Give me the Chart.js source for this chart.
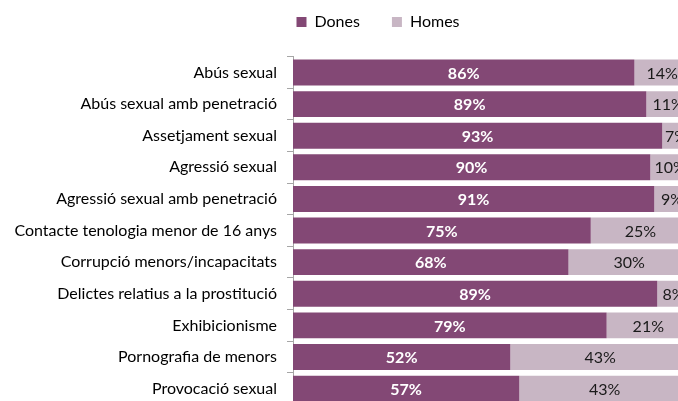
<!DOCTYPE html>
<html>
<head>
<meta charset="utf-8">
<script src="https://cdn.jsdelivr.net/npm/chart.js@4/dist/chart.umd.min.js"></script>
<style>
  html, body { margin: 0; padding: 0; background: #ffffff; overflow: hidden; }
  #wrap { width: 678px; height: 401px; overflow: hidden; position: relative; }
  canvas { display: block; }
</style>
</head>
<body>
<div id="wrap"><canvas id="c" width="756" height="424"></canvas></div>
<script>
const categories = [
  "Abús sexual",
  "Abús sexual amb penetració",
  "Assetjament sexual",
  "Agressió sexual",
  "Agressió sexual amb penetració",
  "Contacte tenologia menor de 16 anys",
  "Corrupció menors/incapacitats",
  "Delictes relatius a la prostitució",
  "Exhibicionisme",
  "Pornografia de menors",
  "Provocació sexual"
];
const donesValues = [86, 89, 93, 90, 91, 75, 68, 89, 79, 52, 57];
const homesValues = [14, 11, 7, 10, 9, 25, 30, 8, 21, 43, 43];
const seriesNames = ["Dones", "Homes"];

const FONT = "Lato, 'Open Sans', sans-serif";

// 100% stacked shares (bars are normalised; labels show the original percentages)
const donesShare = donesValues.map((d, i) => d / (d + homesValues[i]) * 100);
const homesShare = homesValues.map((h, i) => h / (donesValues[i] + h) * 100);
const rawBySeries = [donesValues, homesValues];

const labelPlugin = {
  id: 'segLabels',
  afterDatasetsDraw(chart) {
    const ctx = chart.ctx;
    ctx.save();
    ctx.textAlign = 'center';
    ctx.textBaseline = 'middle';
    chart.data.datasets.forEach((ds, di) => {
      const meta = chart.getDatasetMeta(di);
      meta.data.forEach((bar, i) => {
        const cx = (bar.x + bar.base) / 2;
        if (di === 0) { ctx.fillStyle = '#ffffff'; ctx.font = "bold 16px " + FONT; }
        else { ctx.fillStyle = '#1a1a1a'; ctx.font = "16px " + FONT; }
        ctx.fillText(rawBySeries[di][i] + '%', cx, bar.y + 1);
      });
    });
    ctx.restore();
  }
};

// the legend is centred on the original (wider) chart, not on the visible crop
const legendShift = {
  id: 'legendShift',
  afterLayout(chart) {
    const lg = chart.legend;
    if (lg) { lg.left += 33; lg.right += 33; }
  }
};

new Chart(document.getElementById('c'), {
  type: 'bar',
  data: {
    labels: categories,
    datasets: [
      { label: seriesNames[0], data: donesShare, backgroundColor: '#834875', borderWidth: 0 },
      { label: seriesNames[1], data: homesShare, backgroundColor: '#C8B6C4', borderWidth: 0 }
    ]
  },
  options: {
    indexAxis: 'y',
    responsive: false,
    animation: false,
    devicePixelRatio: 1,
    categoryPercentage: 1.0,
    barPercentage: 0.82,
    layout: { padding: { top: -18, left: 0, right: 66, bottom: 0 } },
    plugins: {
      legend: {
        position: 'top', align: 'center',
        labels: { boxWidth: 10, boxHeight: 10, padding: 32, color: '#000000', font: { family: FONT, size: 16 } }
      },
      tooltip: { enabled: false }
    },
    scales: {
      x: {
        position: 'top', stacked: true, min: 0, max: 100, display: true,
        grid: { display: false }, border: { display: false }, ticks: { display: false },
        afterFit(scale) { scale.height = 16.7; }
      },
      y: {
        stacked: true,
        grid: { display: true, drawOnChartArea: false, drawTicks: true, tickLength: 6, color: '#A6A6A6', offset: true },
        border: { display: true, color: '#A6A6A6' },
        ticks: { autoSkip: false, padding: 10, color: '#000000', font: { family: FONT, size: 16 } },
        afterFit(scale) { scale.width = 293; }
      }
    }
  },
  plugins: [labelPlugin, legendShift]
});
</script>
</body>
</html>
